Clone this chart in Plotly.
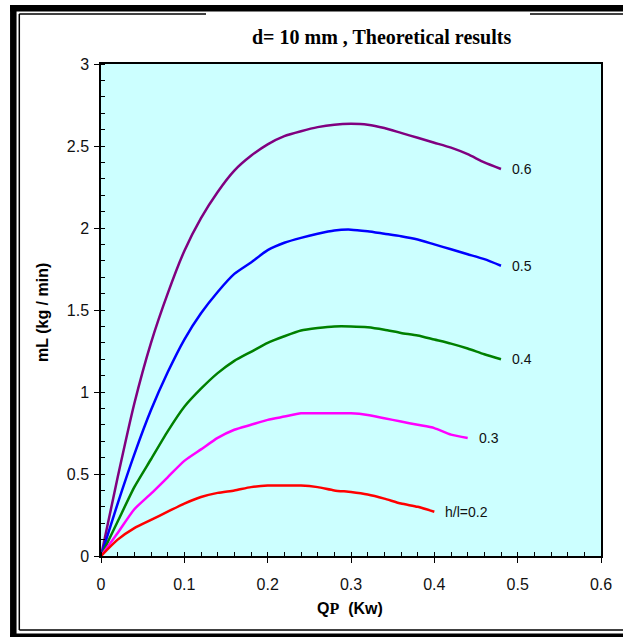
import plotly.graph_objects as go

# ---- data ----
qp = [0.00, 0.02, 0.04, 0.06, 0.08, 0.10, 0.12, 0.14, 0.16, 0.18, 0.20, 0.22, 0.24,
      0.26, 0.28, 0.30, 0.32, 0.34, 0.36, 0.38, 0.40, 0.42, 0.44, 0.46, 0.48]

ml_06 = [0.00, 0.48, 0.93, 1.30, 1.60, 1.86, 2.06, 2.22, 2.35, 2.44, 2.51, 2.56, 2.59,
         2.615, 2.63, 2.635, 2.63, 2.61, 2.58, 2.55, 2.52, 2.49, 2.45, 2.40, 2.36]
ml_05 = [0.00, 0.32, 0.62, 0.89, 1.12, 1.32, 1.48, 1.61, 1.72, 1.79, 1.865, 1.91, 1.94,
         1.965, 1.985, 1.99, 1.98, 1.965, 1.95, 1.93, 1.90, 1.87, 1.84, 1.81, 1.77]
ml_04 = [0.00, 0.21, 0.42, 0.59, 0.76, 0.91, 1.02, 1.115, 1.19, 1.245, 1.30, 1.34, 1.375,
         1.39, 1.40, 1.40, 1.395, 1.38, 1.36, 1.345, 1.32, 1.295, 1.265, 1.23, 1.20]
ml_03 = [0.00, 0.14, 0.285, 0.38, 0.48, 0.58, 0.65, 0.72, 0.77, 0.80, 0.83, 0.85, 0.87,
         0.87, 0.87, 0.87, 0.86, 0.84, 0.82, 0.80, 0.78, 0.74, 0.72]
ml_02 = [0.00, 0.10, 0.17, 0.22, 0.27, 0.32, 0.36, 0.385, 0.40, 0.42, 0.43, 0.43, 0.43,
         0.42, 0.40, 0.39, 0.375, 0.35, 0.32, 0.30, 0.27]

series_labels = ["0.6", "0.5", "0.4", "0.3", "h/l=0.2"]
series_values = [ml_06, ml_05, ml_04, ml_03, ml_02]
series_colors = ["#800080", "#0000FF", "#008000", "#FF00FF", "#FF0000"]

x_ticks = [0, 0.1, 0.2, 0.3, 0.4, 0.5, 0.6]
x_ticklabels = ["0", "0.1", "0.2", "0.3", "0.4", "0.5", "0.6"]
y_ticks = [0, 0.5, 1, 1.5, 2, 2.5, 3]
y_ticklabels = ["0", "0.5", "1", "1.5", "2", "2.5", "3"]

title_text = "d= 10 mm , Theoretical results"

# ---- figure ----
W, H = 623, 637
L, R, T, B = 101, 22, 64, 81
pw, ph = W - L - R, H - T - B

def px_x(p):
    return (p - L) / pw

def px_y(p):
    return (H - B - p) / ph

fig = go.Figure()
annotations = []
for lab, vals, col in zip(series_labels, series_values, series_colors):
    xs = qp[:len(vals)]
    fig.add_trace(go.Scatter(x=xs, y=vals, mode="lines",
                             line=dict(color=col, width=2.5, shape="spline", smoothing=0.6),
                             showlegend=False, hoverinfo="skip"))
    annotations.append(dict(x=xs[-1], y=vals[-1], xref="x", yref="y",
                            text=lab, showarrow=False, xanchor="left",
                            yanchor="middle", xshift=9,
                            font=dict(family="Arial, Liberation Sans", size=14, color="#111")))

annotations.append(dict(x=px_x(381), y=px_y(37), xref="paper", yref="paper",
                        text="<b>" + title_text + "</b>", showarrow=False,
                        xanchor="center", yanchor="middle",
                        font=dict(family="Times New Roman, Liberation Serif", size=20, color="black")))
annotations.append(dict(x=px_x(350), y=px_y(608), xref="paper", yref="paper",
                        text="<b>Q</b><span style='font-family:Liberation Serif'><b>P</b></span><b>  (Kw)</b>",
                        showarrow=False, xanchor="center", yanchor="middle",
                        font=dict(family="Arial, Liberation Sans", size=16, color="black")))
annotations.append(dict(x=px_x(42), y=px_y(313), xref="paper", yref="paper",
                        text="<b>mL (kg / min)</b>", textangle=-90,
                        showarrow=False, xanchor="center", yanchor="middle",
                        font=dict(family="Arial, Liberation Sans", size=16, color="black")))

XR = 623
shapes = []
# outer thick frame
shapes.append(dict(type="line", xref="paper", yref="paper",
                   x0=px_x(13.3), x1=px_x(13.3), y0=px_y(5), y1=px_y(637),
                   line=dict(color="black", width=6.5)))
shapes.append(dict(type="line", xref="paper", yref="paper",
                   x0=px_x(10), x1=px_x(XR), y0=px_y(8.3), y1=px_y(8.3),
                   line=dict(color="black", width=6.5)))
shapes.append(dict(type="line", xref="paper", yref="paper",
                   x0=px_x(10), x1=px_x(XR), y0=px_y(635.5), y1=px_y(635.5),
                   line=dict(color="black", width=4)))
# inner thin frame
thin = dict(color="black", width=1.5)
shapes.append(dict(type="line", xref="paper", yref="paper",
                   x0=px_x(19.3), x1=px_x(19.3), y0=px_y(14), y1=px_y(630), line=thin))
shapes.append(dict(type="line", xref="paper", yref="paper",
                   x0=px_x(19.3), x1=px_x(XR), y0=px_y(630), y1=px_y(630), line=thin))
shapes.append(dict(type="line", xref="paper", yref="paper",
                   x0=px_x(19.3), x1=px_x(206), y0=px_y(14), y1=px_y(14), line=thin))
shapes.append(dict(type="line", xref="paper", yref="paper",
                   x0=px_x(530), x1=px_x(XR), y0=px_y(14), y1=px_y(14), line=thin))

axis_common = dict(showgrid=False, zeroline=False, showline=True, linecolor="black",
                   linewidth=1.5, mirror=True, ticks="outside", ticklen=5,
                   tickcolor="black", tickwidth=1.2,
                   tickfont=dict(family="Arial, Liberation Sans", size=16, color="#111"))

fig.update_layout(
    width=W, height=H,
    margin=dict(l=L, r=R, t=T, b=B, pad=0),
    paper_bgcolor="white",
    plot_bgcolor="#CCFFFF",
    showlegend=False,
    annotations=annotations,
    shapes=shapes,
    xaxis=dict(range=[0, 0.6], tickvals=x_ticks, ticktext=x_ticklabels,
               ticklabelstandoff=8,
               minor=dict(dtick=0.02, tick0=0, ticks="inside", ticklen=4,
                          tickcolor="black", tickwidth=1),
               **axis_common),
    yaxis=dict(range=[0, 3], tickvals=y_ticks, ticktext=y_ticklabels,
               ticklabelstandoff=2,
               minor=dict(dtick=0.1, tick0=0, ticks="inside", ticklen=4,
                          tickcolor="black", tickwidth=1),
               **axis_common),
)

fig.write_html("out.html", config={"displayModeBar": False},
               post_script="document.documentElement.style.overflow='hidden';"
                           "document.body.style.margin='0';document.body.style.overflow='hidden';")
